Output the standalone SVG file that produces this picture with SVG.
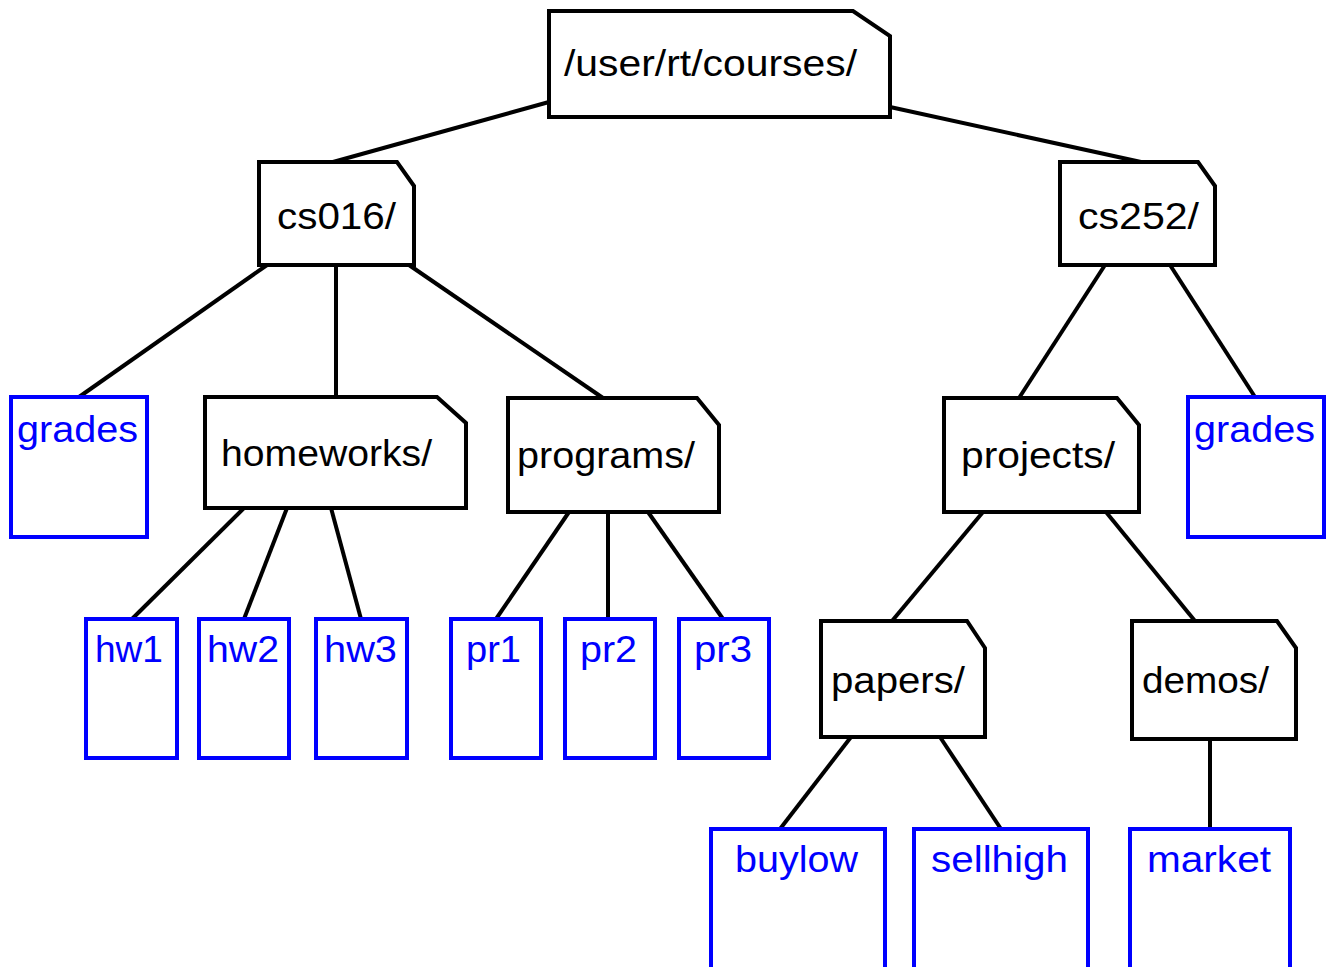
<svg xmlns="http://www.w3.org/2000/svg" width="1330" height="967" viewBox="0 0 1330 967">
<style>
.dir{fill:#fff;stroke:#000;stroke-width:4;stroke-linejoin:miter}
.file{fill:#fff;stroke:#0000ff;stroke-width:4}
.t{font-family:"Liberation Sans",Arial,sans-serif;font-size:37px;fill:#000}
.b{font-family:"Liberation Sans",Arial,sans-serif;font-size:37px;fill:#0000ff}
.c line{stroke:#000;stroke-width:4}
</style>
<rect width="1330" height="967" fill="#fff"/>
<g class="c" id="connectors">
<line x1="549" y1="102" x2="333" y2="162"/>
<line x1="890" y1="107" x2="1141" y2="162"/>
<line x1="267" y1="265" x2="79" y2="397"/>
<line x1="336" y1="265" x2="336" y2="397"/>
<line x1="409" y1="265" x2="603" y2="398"/>
<line x1="1105" y1="265" x2="1019" y2="398"/>
<line x1="1170" y1="265" x2="1255" y2="397"/>
<line x1="244" y1="508" x2="132" y2="619"/>
<line x1="287" y1="508" x2="244" y2="619"/>
<line x1="331" y1="508" x2="361" y2="619"/>
<line x1="569" y1="512" x2="496" y2="619"/>
<line x1="608" y1="512" x2="608" y2="619"/>
<line x1="648" y1="512" x2="723" y2="619"/>
<line x1="983" y1="512" x2="892" y2="621"/>
<line x1="1106" y1="512" x2="1195" y2="621"/>
<line x1="851" y1="737" x2="780" y2="829"/>
<line x1="940" y1="737" x2="1001" y2="829"/>
<line x1="1210" y1="739" x2="1210" y2="829"/>
</g>
<g id="root"><polygon class="dir" points="549,11 853,11 890,36 890,117 549,117"/><text class="t" x="564" y="76" textLength="293" lengthAdjust="spacingAndGlyphs">/user/rt/courses/</text></g>
<g id="cs016"><polygon class="dir" points="259,162 397,162 414,186 414,265 259,265"/><text class="t" x="277" y="229" textLength="119" lengthAdjust="spacingAndGlyphs">cs016/</text></g>
<g id="cs252"><polygon class="dir" points="1060,162 1198,162 1215,186 1215,265 1060,265"/><text class="t" x="1078" y="229" textLength="121" lengthAdjust="spacingAndGlyphs">cs252/</text></g>
<g id="grades1"><rect class="file" x="11" y="397" width="136" height="140"/><text class="b" x="17" y="442" textLength="121" lengthAdjust="spacingAndGlyphs">grades</text></g>
<g id="homeworks"><polygon class="dir" points="205,397 437,397 466,423 466,508 205,508"/><text class="t" x="221" y="466" textLength="211" lengthAdjust="spacingAndGlyphs">homeworks/</text></g>
<g id="programs"><polygon class="dir" points="508,398 697,398 719,425 719,512 508,512"/><text class="t" x="517" y="468" textLength="178" lengthAdjust="spacingAndGlyphs">programs/</text></g>
<g id="projects"><polygon class="dir" points="944,398 1117,398 1139,425 1139,512 944,512"/><text class="t" x="961" y="468" textLength="154" lengthAdjust="spacingAndGlyphs">projects/</text></g>
<g id="grades2"><rect class="file" x="1188" y="397" width="136" height="140"/><text class="b" x="1194" y="442" textLength="121" lengthAdjust="spacingAndGlyphs">grades</text></g>
<g id="hw1"><rect class="file" x="86" y="619" width="91" height="139"/><text class="b" x="95" y="662" textLength="68" lengthAdjust="spacingAndGlyphs">hw1</text></g>
<g id="hw2"><rect class="file" x="199" y="619" width="90" height="139"/><text class="b" x="207" y="662" textLength="72" lengthAdjust="spacingAndGlyphs">hw2</text></g>
<g id="hw3"><rect class="file" x="316" y="619" width="91" height="139"/><text class="b" x="324" y="662" textLength="73" lengthAdjust="spacingAndGlyphs">hw3</text></g>
<g id="pr1"><rect class="file" x="451" y="619" width="90" height="139"/><text class="b" x="466" y="662" textLength="55" lengthAdjust="spacingAndGlyphs">pr1</text></g>
<g id="pr2"><rect class="file" x="565" y="619" width="90" height="139"/><text class="b" x="580" y="662" textLength="57" lengthAdjust="spacingAndGlyphs">pr2</text></g>
<g id="pr3"><rect class="file" x="679" y="619" width="90" height="139"/><text class="b" x="694" y="662" textLength="58" lengthAdjust="spacingAndGlyphs">pr3</text></g>
<g id="papers"><polygon class="dir" points="821,621 967,621 985,648 985,737 821,737"/><text class="t" x="831" y="693" textLength="134" lengthAdjust="spacingAndGlyphs">papers/</text></g>
<g id="demos"><polygon class="dir" points="1132,621 1277,621 1296,648 1296,739 1132,739"/><text class="t" x="1142" y="693" textLength="127" lengthAdjust="spacingAndGlyphs">demos/</text></g>
<g id="buylow"><rect class="file" x="711" y="829" width="174" height="142"/><text class="b" x="735" y="872" textLength="123" lengthAdjust="spacingAndGlyphs">buylow</text></g>
<g id="sellhigh"><rect class="file" x="914" y="829" width="174" height="142"/><text class="b" x="931" y="872" textLength="137" lengthAdjust="spacingAndGlyphs">sellhigh</text></g>
<g id="market"><rect class="file" x="1130" y="829" width="160" height="142"/><text class="b" x="1147" y="872" textLength="124" lengthAdjust="spacingAndGlyphs">market</text></g>
</svg>
